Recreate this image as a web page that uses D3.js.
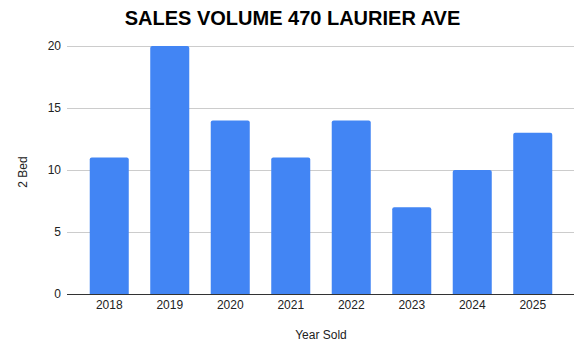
<!DOCTYPE html>
<html>
<head>
<meta charset="utf-8">
<script src="https://cdn.jsdelivr.net/npm/d3@7"></script>
<style>
  html, body { margin: 0; padding: 0; background: #fff; }
  svg { display: block; font-family: Arial, "Liberation Sans", sans-serif; }
</style>
</head>
<body>
<svg id="chart" width="583" height="356"></svg>
<script>
const years = ["2018", "2019", "2020", "2021", "2022", "2023", "2024", "2025"];
const sales = [11, 20, 14, 11, 14, 7, 10, 13];
const yTicks = [0, 5, 10, 15, 20];

const svg = d3.select("#chart");
const plot = { left: 67, right: 574, top: 46, bottom: 294 };

const x = d3.scaleBand().domain(years).range([79, 563]).paddingInner(0.355).paddingOuter(0.1775);
const y = d3.scaleLinear().domain([0, 20]).range([plot.bottom, plot.top]);

// gridlines
svg.append("g").selectAll("line").data(yTicks.filter(d => d !== 0)).join("line")
  .attr("x1", plot.left).attr("x2", plot.right)
  .attr("y1", d => Math.round(y(d)) + 0.5).attr("y2", d => Math.round(y(d)) + 0.5)
  .attr("stroke", "#cccccc").attr("stroke-width", 1);

// y tick labels
svg.append("g").selectAll("text").data(yTicks).join("text")
  .attr("x", 61).attr("y", d => y(d) + 4)
  .attr("text-anchor", "end").attr("font-size", 12).attr("fill", "#222")
  .text(d => d);

// bars with rounded top corners
const r = 2;
svg.append("g").selectAll("path").data(years.map((yr, i) => ({ yr, v: sales[i] }))).join("path")
  .attr("fill", "#4285f4")
  .attr("d", d => {
    const x0 = x(d.yr), x1 = x0 + x.bandwidth();
    const y0 = y(0), y1 = y(d.v);
    return `M${x0},${y0}L${x0},${y1 + r}Q${x0},${y1} ${x0 + r},${y1}L${x1 - r},${y1}Q${x1},${y1} ${x1},${y1 + r}L${x1},${y0}Z`;
  });

// baseline
svg.append("line")
  .attr("x1", plot.left).attr("x2", plot.right)
  .attr("y1", Math.round(y(0)) + 0.5).attr("y2", Math.round(y(0)) + 0.5)
  .attr("stroke", "#333").attr("stroke-width", 1);

// x tick labels
svg.append("g").selectAll("text").data(years).join("text")
  .attr("x", d => x(d) + x.bandwidth() / 2).attr("y", 309)
  .attr("text-anchor", "middle").attr("font-size", 12).attr("fill", "#222")
  .text(d => d);

// title
svg.append("text").attr("x", 292.5).attr("y", 25)
  .attr("text-anchor", "middle").attr("font-size", 20).attr("font-weight", "bold").attr("fill", "#000")
  .text("SALES VOLUME 470 LAURIER AVE");

// axis titles
svg.append("text").attr("x", 321).attr("y", 339)
  .attr("text-anchor", "middle").attr("font-size", 12).attr("fill", "#222")
  .text("Year Sold");

svg.append("text").attr("transform", "translate(27,172) rotate(-90)")
  .attr("text-anchor", "middle").attr("font-size", 12).attr("fill", "#222")
  .text("2 Bed");
</script>
</body>
</html>
